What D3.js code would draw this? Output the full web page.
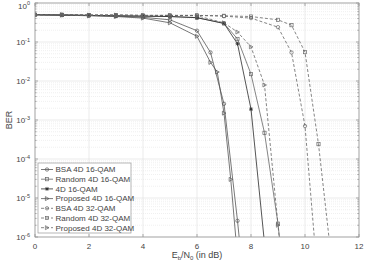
<!DOCTYPE html>
<html>
<head>
<meta charset="utf-8">
<script src="https://cdn.jsdelivr.net/npm/d3@7"></script>
<style>
  body { margin: 0; background: #fff; }
  text { font-family: "Liberation Sans", Arial, sans-serif; fill: #444; }
</style>
</head>
<body>
<div id="chart"></div>
<script>
// values
var xTicks = [0, 2, 4, 6, 8, 10, 12];
var yExps = [0, -1, -2, -3, -4, -5, -6];

var bsa16X = [0, 1, 2, 3, 4, 5, 6, 6.5, 7, 7.5, 8];
var bsa16Y = [0.5, 0.49, 0.48, 0.46, 0.43, 0.37, 0.195, 0.054, 2.6e-3, 2.6e-6, 1e-9];
var rand16X = [0, 1, 2, 3, 4, 5, 6, 7, 7.5, 8, 8.5, 9, 9.5];
var rand16Y = [0.5, 0.49, 0.48, 0.47, 0.46, 0.45, 0.42, 0.30, 0.12, 0.015, 4.7e-4, 2.2e-6, 1e-9];
var base16X = [0, 1, 2, 3, 4, 5, 6, 7, 7.5, 8, 8.5];
var base16Y = [0.5, 0.49, 0.48, 0.47, 0.46, 0.45, 0.42, 0.30, 0.09, 1.9e-3, 7e-7];
var prop16X = [0, 1, 2, 3, 4, 5, 6, 6.5, 6.75, 7, 7.25, 7.5];
var prop16Y = [0.5, 0.49, 0.47, 0.45, 0.41, 0.31, 0.14, 0.030, 0.017, 1.5e-3, 3e-5, 3e-7];
var bsa32X = [0, 1, 2, 3, 4, 5, 6, 7, 8, 9, 9.5, 10, 10.5];
var bsa32Y = [0.5, 0.5, 0.49, 0.49, 0.48, 0.48, 0.48, 0.46, 0.41, 0.24, 0.054, 7e-4, 5e-8];
var rand32X = [0, 1, 2, 3, 4, 5, 6, 7, 8, 9, 9.5, 10, 10.5, 11];
var rand32Y = [0.5, 0.5, 0.49, 0.49, 0.48, 0.48, 0.48, 0.47, 0.45, 0.37, 0.27, 0.055, 2.4e-4, 2e-7];
var prop32X = [0, 1, 2, 3, 4, 5, 6, 7, 7.5, 8, 8.5, 9, 9.5];
var prop32Y = [0.5, 0.5, 0.49, 0.49, 0.48, 0.48, 0.47, 0.31, 0.18, 0.075, 7.9e-3, 2e-6, 1e-9];

var seriesNames = ["BSA 4D 16-QAM", "Random 4D 16-QAM", "4D 16-QAM", "Proposed 4D 16-QAM",
                   "BSA 4D 32-QAM", "Random 4D 32-QAM", "Proposed 4D 32-QAM"];
var seriesX = [bsa16X, rand16X, base16X, prop16X, bsa32X, rand32X, prop32X];
var seriesY = [bsa16Y, rand16Y, base16Y, prop16Y, bsa32Y, rand32Y, prop32Y];
var seriesMarker = ["circle", "square", "star", "tri", "circle", "square", "tri"];
var seriesDash = [null, null, null, null, "3,2", "3,2", "3,2"];
var seriesColor = ["#555", "#666", "#2a2a2a", "#555", "#666", "#666", "#666"];
var seriesWidth = [0.8, 0.8, 0.8, 0.8, 0.8, 0.8, 0.8];

var W = 377, H = 270;
var pLeft = 35, pRight = 359, pTop = 3, pBottom = 237;

var svg = d3.select("#chart").append("svg")
    .attr("width", W)
    .attr("height", H);

var xscale = d3.scaleLinear().domain([0, 12]).range([pLeft, pRight]);
var yscale = d3.scaleLog().domain([1e-6, 1]).range([pBottom, pTop]);

// grid
var grid = svg.append("g");
var minors = [];
for (var e = -6; e < 0; e++) {
    for (var m = 2; m <= 9; m++) minors.push(m * Math.pow(10, e));
}
grid.selectAll(".minor").data(minors).enter().append("line")
    .attr("x1", pLeft).attr("x2", pRight)
    .attr("y1", function (d) { return yscale(d); })
    .attr("y2", function (d) { return yscale(d); })
    .attr("stroke", "#e6e6e6")
    .attr("stroke-width", 0.6)
    .attr("stroke-dasharray", "1,1");
grid.selectAll(".hmaj").data(yExps).enter().append("line")
    .attr("x1", pLeft).attr("x2", pRight)
    .attr("y1", function (d) { return yscale(Math.pow(10, d)); })
    .attr("y2", function (d) { return yscale(Math.pow(10, d)); })
    .attr("stroke", "#e2e2e2")
    .attr("stroke-width", 0.7);
grid.selectAll(".vmaj").data(xTicks).enter().append("line")
    .attr("y1", pTop).attr("y2", pBottom)
    .attr("x1", function (d) { return xscale(d); })
    .attr("x2", function (d) { return xscale(d); })
    .attr("stroke", "#e2e2e2")
    .attr("stroke-width", 0.7);

// ticks inside the box on all sides
var ticks = svg.append("g").attr("stroke", "#888").attr("stroke-width", 0.7);
xTicks.forEach(function (d) {
    ticks.append("line").attr("x1", xscale(d)).attr("x2", xscale(d)).attr("y1", pBottom).attr("y2", pBottom - 3);
    ticks.append("line").attr("x1", xscale(d)).attr("x2", xscale(d)).attr("y1", pTop).attr("y2", pTop + 3);
});
yExps.forEach(function (d) {
    var y = yscale(Math.pow(10, d));
    ticks.append("line").attr("x1", pLeft).attr("x2", pLeft + 3).attr("y1", y).attr("y2", y);
    ticks.append("line").attr("x1", pRight).attr("x2", pRight - 3).attr("y1", y).attr("y2", y);
});
minors.forEach(function (d) {
    var y = yscale(d);
    ticks.append("line").attr("x1", pLeft).attr("x2", pLeft + 1.6).attr("y1", y).attr("y2", y);
    ticks.append("line").attr("x1", pRight).attr("x2", pRight - 1.6).attr("y1", y).attr("y2", y);
});

// lines
svg.append("clipPath").attr("id", "clip").append("rect")
    .attr("x", pLeft).attr("y", pTop).attr("width", pRight - pLeft).attr("height", pBottom - pTop);
var plot = svg.append("g").attr("clip-path", "url(#clip)");

var line = d3.line()
    .x(function (d) { return xscale(d[0]); })
    .y(function (d) { return yscale(d[1]); });

function drawMarker(g, type, x, y, color) {
    if (type == "circle") {
        g.append("circle").attr("cx", x).attr("cy", y).attr("r", 1.7)
            .attr("fill", "none").attr("stroke", color).attr("stroke-width", 0.7);
    } else if (type == "square") {
        g.append("rect").attr("x", x - 1.6).attr("y", y - 1.6).attr("width", 3.2).attr("height", 3.2)
            .attr("fill", "none").attr("stroke", color).attr("stroke-width", 0.7);
    } else if (type == "tri") {
        g.append("path").attr("d", "M" + (x - 1.6) + "," + (y - 2) + "L" + (x + 2) + "," + y + "L" + (x - 1.6) + "," + (y + 2) + "Z")
            .attr("fill", "none").attr("stroke", color).attr("stroke-width", 0.7);
    } else {
        var s = 2;
        g.append("path").attr("d",
            "M" + (x - s) + "," + y + "L" + (x + s) + "," + y +
            "M" + x + "," + (y - s) + "L" + x + "," + (y + s) +
            "M" + (x - 1.4) + "," + (y - 1.4) + "L" + (x + 1.4) + "," + (y + 1.4) +
            "M" + (x - 1.4) + "," + (y + 1.4) + "L" + (x + 1.4) + "," + (y - 1.4))
            .attr("stroke", color).attr("stroke-width", 0.8);
    }
}

for (var i = 0; i < seriesNames.length; i++) {
    var pts = seriesX[i].map(function (x, j) { return [x, seriesY[i][j]]; });
    plot.append("path")
        .datum(pts)
        .attr("d", line)
        .attr("fill", "none")
        .attr("stroke", seriesColor[i])
        .attr("stroke-width", seriesWidth[i])
        .attr("stroke-dasharray", seriesDash[i]);
    var mg = plot.append("g");
    pts.forEach(function (p) {
        if (p[1] >= 1e-6) drawMarker(mg, seriesMarker[i], xscale(p[0]), yscale(p[1]), seriesColor[i]);
    });
}

// box
svg.append("rect")
    .attr("x", pLeft).attr("y", pTop).attr("width", pRight - pLeft).attr("height", pBottom - pTop)
    .attr("fill", "none").attr("stroke", "#999").attr("stroke-width", 0.8);

// tick labels
svg.selectAll(".xl").data(xTicks).enter().append("text")
    .attr("x", function (d) { return xscale(d); })
    .attr("y", 249)
    .attr("text-anchor", "middle")
    .attr("font-size", "8px")
    .text(function (d) { return d; });

var yl = svg.selectAll(".yl").data(yExps).enter().append("text")
    .attr("x", 30)
    .attr("y", function (d) { return Math.max(yscale(Math.pow(10, d)) + 3, 8.5); })
    .attr("text-anchor", "end")
    .attr("font-size", "8px");
yl.append("tspan").text("10");
yl.append("tspan").attr("dy", -3.5).attr("font-size", "5.5px").text(function (d) { return d; });

// axis titles
svg.append("text")
    .attr("transform", "translate(12,120) rotate(-90)")
    .attr("text-anchor", "middle")
    .attr("font-size", "9px")
    .text("BER");

var xt = svg.append("text")
    .attr("x", 197).attr("y", 258)
    .attr("text-anchor", "middle")
    .attr("font-size", "9px");
xt.append("tspan").text("E");
xt.append("tspan").attr("dy", 2).attr("font-size", "6px").text("b");
xt.append("tspan").attr("dy", -2).text("/N");
xt.append("tspan").attr("dy", 2).attr("font-size", "6px").text("0");
xt.append("tspan").attr("dy", -2).text(" (in dB)");

// legend
var lg = svg.append("g");
lg.append("rect")
    .attr("x", 38).attr("y", 163).attr("width", 93).attr("height", 70)
    .attr("fill", "#fff").attr("stroke", "#999").attr("stroke-width", 0.7);
seriesNames.forEach(function (name, i) {
    var y = 169.5 + i * 9.7;
    lg.append("line")
        .attr("x1", 41).attr("x2", 53).attr("y1", y).attr("y2", y)
        .attr("stroke", seriesColor[i])
        .attr("stroke-width", seriesWidth[i])
        .attr("stroke-dasharray", seriesDash[i]);
    drawMarker(lg, seriesMarker[i], 47, y, seriesColor[i]);
    lg.append("text")
        .attr("x", 55.5).attr("y", y + 2.8)
        .attr("font-size", "8px")
        .text(name);
});
</script>
</body>
</html>
